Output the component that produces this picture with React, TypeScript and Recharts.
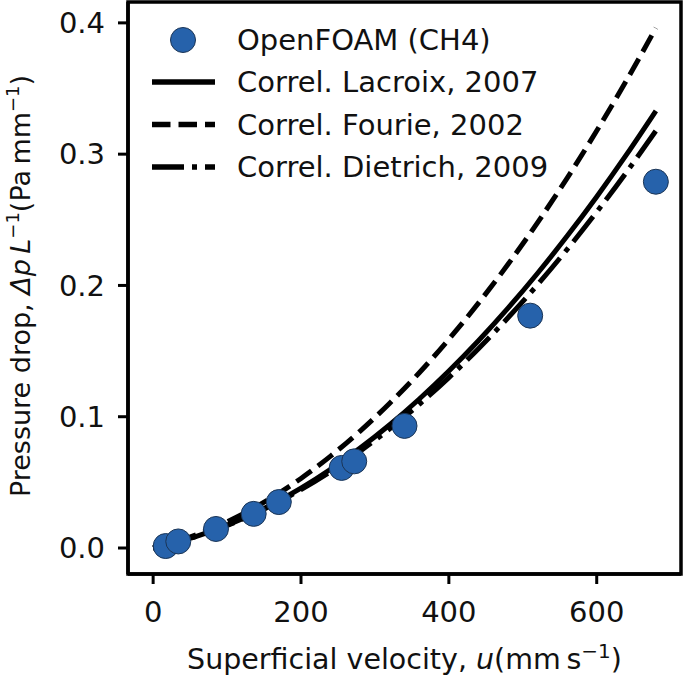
import React from "react";
import { ComposedChart, Legend, Line, ReferenceArea, XAxis, YAxis } from "recharts";

// Pressure drop against superficial velocity: OpenFOAM points and three
// literature correlations, values.

const VELOCITY = [
  0, 40, 80, 120, 160, 200, 240, 280, 320, 360, 400, 440, 480, 520, 560, 600,
  640, 680,
];
const LACROIX_2007 = [
  0, 0.0056, 0.013, 0.0221, 0.033, 0.0456, 0.06, 0.0761, 0.0939, 0.1135,
  0.1348, 0.1579, 0.1827, 0.2093, 0.2376, 0.2676, 0.2994, 0.3329,
];
const FOURIE_2002 = [
  0, 0.0064, 0.0149, 0.0255, 0.0382, 0.053, 0.07, 0.0891, 0.1103, 0.1335,
  0.159, 0.1865, 0.2161, 0.2479, 0.2818, 0.3178, 0.3559, 0.3961,
];
const DIETRICH_2009 = [
  0, 0.0056, 0.0129, 0.0218, 0.0324, 0.0445, 0.0583, 0.0738, 0.0908, 0.1095,
  0.1298, 0.1518, 0.1754, 0.2006, 0.2275, 0.256, 0.2861, 0.3178,
];
const FOAM_VELOCITY = [17, 34, 85, 136, 170, 255, 272, 340, 510, 680];
const FOAM_DROP = [
  0.0015, 0.005, 0.0145, 0.026, 0.035, 0.061, 0.066, 0.093, 0.177, 0.279,
];
const X_TICKS = [0, 200, 400, 600];
const Y_TICKS = [0, 0.1, 0.2, 0.3, 0.4];

const X_DOMAIN: [number, number] = [-34, 714];
const Y_DOMAIN: [number, number] = [-0.0198, 0.4159];

const FONT = "DejaVu Sans";
const INK = "#111";
const MARKER = "#2662ab";
const LW = 5;
const DASHED = `${3.7 * LW} ${1.6 * LW}`;
const DASH_DOT = `${6.4 * LW} ${1.6 * LW} ${LW} ${1.6 * LW}`;

const toSeries = (values: number[]) =>
  VELOCITY.map((u, i) => ({ u, dp: values[i] }));

const foam = FOAM_VELOCITY.map((u, i) => ({ u, dp: FOAM_DROP[i] }));
const lacroix = toSeries(LACROIX_2007);
const fourie = toSeries(FOURIE_2002);
const dietrich = toSeries(DIETRICH_2009);

const CORRELATIONS = [
  { name: "Correl. Lacroix, 2007", dash: undefined as string | undefined },
  { name: "Correl. Fourie, 2002", dash: DASHED },
  { name: "Correl. Dietrich, 2009", dash: DASH_DOT },
];

const Dot = (props: { cx?: number; cy?: number }) => (
  <circle
    cx={props.cx}
    cy={props.cy}
    r={12.5}
    fill={MARKER}
    stroke="#1b3556"
    strokeWidth={1}
  />
);

const XLabel = () => (
  <text
    x={404.5}
    y={669}
    textAnchor="middle"
    fontFamily={FONT}
    fontSize={28.5}
    fill={INK}
  >
    Superficial velocity,{" "}
    <tspan fontStyle="italic">u</tspan>
    <tspan>(mm{"\u2009"}s</tspan>
    <tspan dy={-11} fontSize={20}>
      −1
    </tspan>
    <tspan dy={11}>)</tspan>
  </text>
);

const YLabel = () => (
  <text
    transform="translate(30, 286) rotate(-90)"
    textAnchor="middle"
    fontFamily={FONT}
    fontSize={27}
    fill={INK}
  >
    Pressure drop,{" "}
    <tspan fontStyle="italic">Δp{"\u2009"}L</tspan>
    <tspan dy={-11} fontSize={18}>
      −1
    </tspan>
    <tspan dy={11}>(Pa{"\u2009"}mm</tspan>
    <tspan dy={-11} fontSize={18}>
      −1
    </tspan>
    <tspan dy={11}>)</tspan>
  </text>
);

const renderLegend = () => (
  <svg width={685} height={200} style={{ display: "block" }}>
    <circle
      cx={183}
      cy={40}
      r={12.5}
      fill={MARKER}
      stroke="#1b3556"
      strokeWidth={1}
    />
    <text
      x={237}
      y={40}
      dy="0.35em"
      fontFamily={FONT}
      fontSize={29}
      fill={INK}
    >
      OpenFOAM (CH4)
    </text>
    {CORRELATIONS.map((c, i) => {
      const y = 82 + i * 42.5;
      return (
        <g key={c.name}>
          <line
            x1={152}
            x2={215}
            y1={y}
            y2={y}
            stroke="#000"
            strokeWidth={5.5}
            strokeDasharray={c.dash}
          />
          <text
            x={237}
            y={y}
            dy="0.35em"
            fontFamily={FONT}
            fontSize={29}
            fill={INK}
          >
            {c.name}
          </text>
        </g>
      );
    })}
  </svg>
);

export default function App() {
  const tick = { fontSize: 29, fill: INK, fontFamily: FONT };
  return (
    <div style={{ width: 685, height: 678, background: "#fff" }}>
      <style>{"body{margin:0;background:#fff}"}</style>
      <ComposedChart
        width={685}
        height={678}
        margin={{ top: 2, right: 4, bottom: 0, left: 0 }}
      >
        <XAxis
          dataKey="u"
          type="number"
          domain={X_DOMAIN}
          ticks={X_TICKS}
          height={104}
          tickSize={10}
          tickMargin={17}
          tick={tick}
          axisLine={{ stroke: "#000", strokeWidth: 3.5 }}
          tickLine={{ stroke: "#000", strokeWidth: 3 }}
          label={<XLabel />}
        />
        <YAxis
          type="number"
          domain={Y_DOMAIN}
          ticks={Y_TICKS}
          width={128}
          tickSize={10}
          tickMargin={13}
          tick={tick}
          tickFormatter={(v: number) => v.toFixed(1)}
          axisLine={{ stroke: "#000", strokeWidth: 3.5 }}
          tickLine={{ stroke: "#000", strokeWidth: 3 }}
          label={<YLabel />}
        />
        <ReferenceArea
          x1={X_DOMAIN[0]}
          x2={X_DOMAIN[1]}
          y1={Y_DOMAIN[0]}
          y2={Y_DOMAIN[1]}
          fill="none"
          stroke="#000"
          strokeWidth={3.5}
          ifOverflow="visible"
        />
        {/* OpenFOAM points go first so the correlation curves sit on top */}
        <Line
          name="OpenFOAM (CH4)"
          data={foam}
          dataKey="dp"
          stroke="none"
          strokeWidth={0}
          dot={<Dot />}
          activeDot={false}
          isAnimationActive={false}
        />
        <Line
          name="Correl. Lacroix, 2007"
          data={lacroix}
          dataKey="dp"
          type="monotone"
          stroke="#000"
          strokeWidth={LW}
          dot={false}
          activeDot={false}
          isAnimationActive={false}
        />
        <Line
          name="Correl. Fourie, 2002"
          data={fourie}
          dataKey="dp"
          type="monotone"
          stroke="#000"
          strokeWidth={LW}
          strokeDasharray={DASHED}
          dot={false}
          activeDot={false}
          isAnimationActive={false}
        />
        <Line
          name="Correl. Dietrich, 2009"
          data={dietrich}
          dataKey="dp"
          type="monotone"
          stroke="#000"
          strokeWidth={LW}
          strokeDasharray={DASH_DOT}
          dot={false}
          activeDot={false}
          isAnimationActive={false}
        />
        <Legend
          layout="vertical"
          align="center"
          verticalAlign="middle"
          content={renderLegend}
          wrapperStyle={{ left: 0, top: 0, width: 685, height: 200 }}
        />
      </ComposedChart>
    </div>
  );
}
